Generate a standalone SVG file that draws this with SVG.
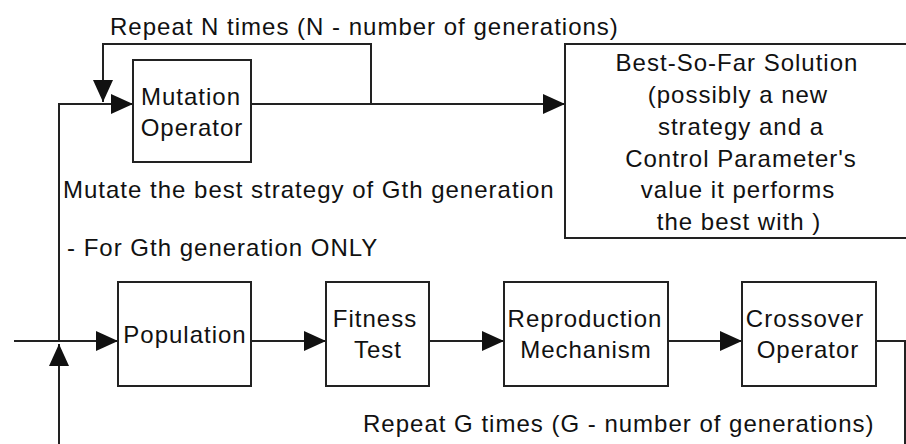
<svg xmlns="http://www.w3.org/2000/svg" width="906" height="444" viewBox="0 0 906 444">
<style>
.box{fill:#fff;stroke:#222;stroke-width:2}
.ln{fill:none;stroke:#222;stroke-width:2}
text{font-family:"Liberation Sans",Arial,sans-serif;font-size:24px;letter-spacing:1px;fill:#111}
.c{text-anchor:middle}
</style>
<defs>
<marker id="ah" markerUnits="userSpaceOnUse" markerWidth="22" markerHeight="20" viewBox="0 0 22 20" refX="22" refY="10" orient="auto">
<path d="M0,0 L22,10 L0,20 z" fill="#111"/>
</marker>
</defs>
<rect width="906" height="444" fill="#fff"/>
<g id="connectors">
<path class="ln" d="M371,104 V44 H103 V102" marker-end="url(#ah)"/>
<path class="ln" d="M59,341 V104 H133" marker-end="url(#ah)"/>
<path class="ln" d="M251,104 H565" marker-end="url(#ah)"/>
<path class="ln" d="M14,341 H118" marker-end="url(#ah)"/>
<path class="ln" d="M251,341 H326" marker-end="url(#ah)"/>
<path class="ln" d="M429,341 H504" marker-end="url(#ah)"/>
<path class="ln" d="M668,341 H742" marker-end="url(#ah)"/>
<path class="ln" d="M876,341 H905 V446"/>
<path class="ln" d="M59,446 V344" marker-end="url(#ah)"/>
</g>
<g id="labels">
<text x="110" y="35">Repeat N times (N - number of generations)</text>
<text x="63" y="198">Mutate the best strategy of Gth generation</text>
<text x="67" y="256">- For Gth generation ONLY</text>
<text x="363" y="432">Repeat G times (G - number of generations)</text>
</g>
<g id="mutation">
<rect class="box" x="133" y="60" width="118" height="102"/>
<text class="c" x="191" y="105">Mutation</text>
<text class="c" x="192" y="136">Operator</text>
</g>
<g id="best">
<rect class="box" x="565" y="44" width="344" height="194"/>
<text class="c" x="737" y="71">Best-So-Far Solution</text>
<text class="c" x="738" y="103">(possibly a new</text>
<text class="c" x="741" y="135">strategy and a</text>
<text class="c" x="741" y="167">Control Parameter's</text>
<text class="c" x="738" y="198">value it performs</text>
<text class="c" x="739" y="230">the best with )</text>
</g>
<g id="population">
<rect class="box" x="118" y="282" width="133" height="104"/>
<text class="c" x="185" y="343">Population</text>
</g>
<g id="fitness">
<rect class="box" x="326" y="282" width="103" height="104"/>
<text class="c" x="375" y="327">Fitness</text>
<text class="c" x="378" y="358">Test</text>
</g>
<g id="reproduction">
<rect class="box" x="504" y="282" width="164" height="104"/>
<text class="c" x="585" y="327">Reproduction</text>
<text class="c" x="586" y="358">Mechanism</text>
</g>
<g id="crossover">
<rect class="box" x="742" y="282" width="134" height="104"/>
<text class="c" x="805" y="327">Crossover</text>
<text class="c" x="808" y="358">Operator</text>
</g>
</svg>
